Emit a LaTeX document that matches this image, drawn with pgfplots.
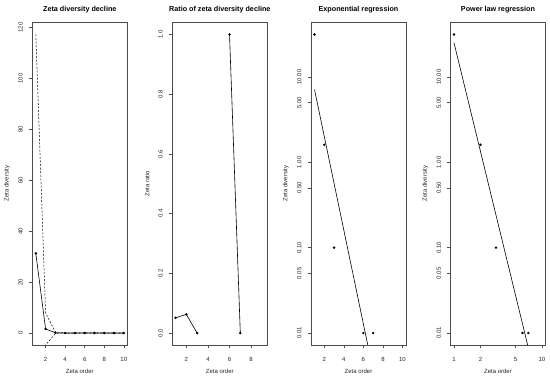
\documentclass[border=0pt]{standalone}
\usepackage{pgfplots}
\pgfplotsset{compat=1.18}
\usepackage{fontspec}
\setmainfont{Liberation Sans}
\begin{document}
\begin{tikzpicture}
\useasboundingbox (0,0) rectangle (550pt,380pt);
\pgfplotsset{
  rstyle/.style={
    scale only axis, width=95pt, height=322.5pt, anchor=south west,
    axis line style={black!70, line width=0.6pt},
    tick style={black!70, line width=0.5pt},
    tick align=outside, major tick length=3.5pt,
    xtick pos=bottom, ytick pos=left,
    minor tick num=0,
    ticklabel style={font=\fontsize{6}{7}\selectfont, text=black!85},
    yticklabel style={rotate=90, anchor=south},
    yticklabel shift=2.5pt, xticklabel shift=5pt,
    every axis x label/.style={at={(axis description cs:0.5,0)}, anchor=center, yshift=-26.5pt, font=\fontsize{6}{7}\selectfont, text=black!85},
    every axis y label/.style={at={(axis description cs:-0.265,0.5)}, rotate=90, anchor=center, font=\fontsize{6}{7}\selectfont, text=black!85},
    every axis title/.style={at={(axis description cs:0.5,1)}, anchor=center, yshift=13pt, font=\bfseries\fontsize{7.2}{8}\selectfont},
    xlabel={Zeta order},
    every axis plot/.append style={black, line width=0.6pt},
    mark options={solid, fill=black, scale=1},
    unbounded coords=jump,
  },
}
% Panel 1
\begin{axis}[rstyle, at={(32.3pt,35pt)},
  title={Zeta diversity decline}, ylabel={Zeta diversity},
  xmin=0.64, xmax=10.36, ymin=-4.7, ymax=122,
  xtick={2,4,6,8,10}, xticklabels={2,4,6,8,10},
  ytick={0,20,40,60,80,100,120}, yticklabels={0,20,40,60,80,100,120}]
\addplot[mark=*, mark size=0.9pt] coordinates {(1,31.3) (2,1.6) (3,0.1) (4,0) (5,0) (6,0.01) (7,0.01) (8,0) (9,0) (10,0)};
\addplot[dashed, dash pattern=on 2pt off 1.6pt, line width=0.5pt] coordinates {(1,117.3) (2,7.9) (3,0.4) (4,0) (5,0) (6,0.1) (7,0.1) (8,0) (9,0) (10,0)};
\addplot[dashed, dash pattern=on 2pt off 1.6pt, line width=0.5pt] coordinates {(1,-54.7) (2,-4.7) (3,-0.2) (4,0) (5,0) (6,-0.08) (7,-0.08) (8,0) (9,0) (10,0)};
\end{axis}
% Panel 2
\begin{axis}[rstyle, at={(172.3pt,35pt)},
  title={Ratio of zeta diversity decline}, ylabel={Zeta ratio},
  xmin=0.7, xmax=9.5, ymin=-0.04, ymax=1.04,
  xtick={2,4,6,8}, xticklabels={2,4,6,8},
  ytick={0,0.2,0.4,0.6,0.8,1}, yticklabels={0.0,0.2,0.4,0.6,0.8,1.0}]
\addplot[mark=*, mark size=0.9pt] coordinates {(1,0.051) (2,0.0625) (3,0) (4,nan) (5,nan) (6,1) (7,0) (8,nan) (9,nan)};
\end{axis}
% Panel 3
\begin{axis}[rstyle, at={(311pt,35pt)}, ymode=log,
  title={Exponential regression}, ylabel={Zeta diversity},
  xmin=0.64, xmax=10.36, ymin=0.00724, ymax=43.3,
  xtick={2,4,6,8,10}, xticklabels={2,4,6,8,10},
  ytick={0.01,0.05,0.1,0.5,1,5,10}, yticklabels={0.01,0.05,0.10,0.50,1.00,5.00,10.00}]
\addplot[only marks, mark=*, mark size=0.9pt] coordinates {(1,31.3) (2,1.6) (3,0.1) (6,0.01) (7,0.01)};
\addplot[no marks] coordinates {(1,7.1) (7,0.00361)};
\end{axis}
% Panel 4
\begin{axis}[rstyle, at={(450.5pt,35pt)}, ymode=log, xmode=log,
  title={Power law regression}, ylabel={Zeta diversity},
  xmin=0.912, xmax=10.96, ymin=0.00724, ymax=43.3,
  xtick={1,2,5,10}, xticklabels={1,2,5,10},
  ytick={0.01,0.05,0.1,0.5,1,5,10}, yticklabels={0.01,0.05,0.10,0.50,1.00,5.00,10.00}]
\addplot[only marks, mark=*, mark size=0.9pt] coordinates {(1,31.3) (2,1.6) (3,0.1) (6,0.01) (7,0.01)};
\addplot[no marks] coordinates {(1,25) (10,0.00148)};
\end{axis}
\end{tikzpicture}
\end{document}
